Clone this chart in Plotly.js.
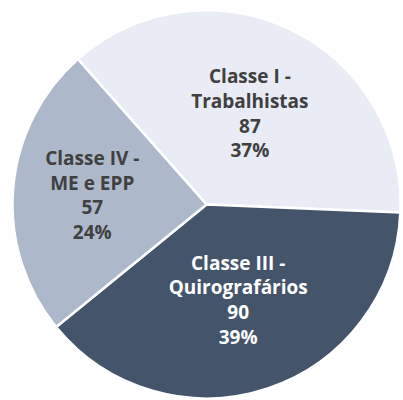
<!DOCTYPE html>
<html>
<head>
<meta charset="utf-8">
<script src="https://cdn.plot.ly/plotly-3.0.1.min.js"></script>
<style>html,body{margin:0;padding:0;background:#fff;}#chart{width:403px;height:400px;}</style>
</head>
<body>
<div id="chart"></div>
<script>
const labels = ["Classe I -<br>Trabalhistas", "Classe III -<br>Quirografários", "Classe IV -<br>ME e EPP"];
const values = [87, 90, 57];
const percentLabels = ["37%", "39%", "24%"];
const sliceColors = ["#e9ebf5", "#44546a", "#adb9ca"];
const textColors = ["#404040", "#ffffff", "#404040"];

Plotly.newPlot("chart", [{
  type: "pie",
  labels: labels,
  values: values,
  text: percentLabels,
  sort: false,
  direction: "clockwise",
  rotation: -41.5,
  marker: {colors: sliceColors, line: {color: "#ffffff", width: 2.5}},
  texttemplate: "<b>%{label}<br>%{value}<br>%{text}</b>",
  textposition: "inside",
  insidetextorientation: "horizontal",
  textfont: {family: "'Open Sans', Lato, sans-serif", size: 19, color: textColors},
  hoverinfo: "none",
  domain: {x: [0.031, 0.9938], y: [0.00375, 0.974]}
}], {
  width: 403, height: 400,
  margin: {l: 0, r: 0, t: 0, b: 0},
  showlegend: false,
  paper_bgcolor: "#ffffff"
}, {displayModeBar: false, staticPlot: true});
</script>
</body>
</html>
